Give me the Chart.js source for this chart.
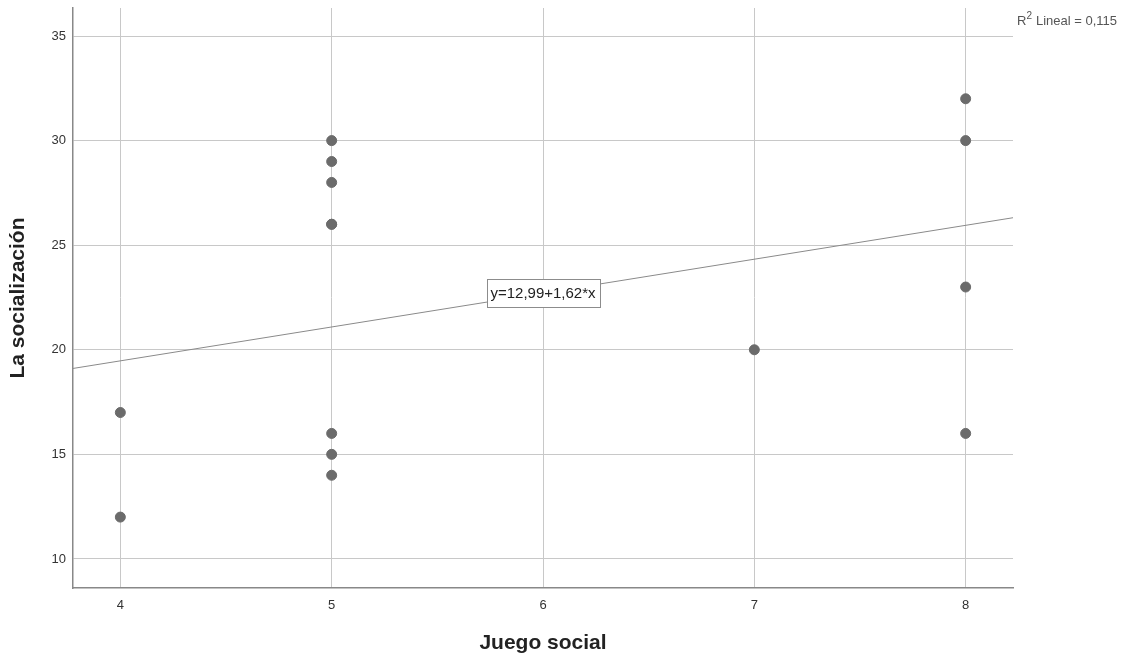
<!DOCTYPE html>
<html>
<head>
<meta charset="utf-8">
<script src="https://cdn.jsdelivr.net/npm/chart.js@4"></script>
<style>
  html, body { margin: 0; padding: 0; background: #fff; }
  #wrap { width: 1134px; height: 664px; }
</style>
</head>
<body>
<div id="wrap"><canvas id="scatter"></canvas></div>
<script>
// Data
const juegoSocial = [4, 4, 5, 5, 5, 5, 5, 5, 5, 5, 7, 8, 8, 8, 8];
const socializacion = [17, 12, 30, 29, 28, 26, 26, 16, 15, 14, 20, 32, 30, 23, 16];
const xTicks = [4, 5, 6, 7, 8];
const yTicks = [10, 15, 20, 25, 30, 35];
const intercept = 12.99;
const slope = 1.62;
const fitLabel = 'y=12,99+1,62*x';
const r2Label = 'Lineal = 0,115';

const xMin = 3.776, xMax = 8.224;
const yMin = 8.61, yMax = 36.34;

const points = juegoSocial.map((x, i) => ({ x: x, y: socializacion[i] }));
const fitLine = [xMin, xMax].map(x => ({ x: x, y: intercept + slope * x }));

const FONT = '"Liberation Sans", Arial, sans-serif';

// draws the equation box on the fit line and the R² note
const annotations = {
    id: 'annotations',
    afterDraw(chart) {
        const ctx = chart.ctx;
        const xs = chart.scales.x, ys = chart.scales.y;
        const midX = (xTicks[0] + xTicks[xTicks.length - 1]) / 2;
        const px = xs.getPixelForValue(midX);
        const py = ys.getPixelForValue(intercept + slope * midX);
        ctx.save();
        ctx.font = '15px ' + FONT;
        const w = Math.round(ctx.measureText(fitLabel).width + 8);
        const h = 28;
        const bx = Math.round(px - w / 2), by = Math.round(py - h / 2);
        ctx.fillStyle = '#fff';
        ctx.fillRect(bx, by, w, h);
        ctx.strokeStyle = '#8c8c8c';
        ctx.lineWidth = 1;
        ctx.strokeRect(bx + 0.5, by + 0.5, w, h);
        ctx.fillStyle = '#222';
        ctx.textAlign = 'center';
        ctx.textBaseline = 'middle';
        ctx.fillText(fitLabel, px, py + 1);

        // R² Lineal label, top right
        const rx = 1017, ry = 21;
        ctx.fillStyle = '#555';
        ctx.textAlign = 'left';
        ctx.font = '13px ' + FONT;
        ctx.fillText('R', rx, ry);
        const rw = ctx.measureText('R').width;
        ctx.font = '10px ' + FONT;
        ctx.fillText('2', rx + rw, ry - 5);
        const sw = ctx.measureText('2').width;
        ctx.font = '13px ' + FONT;
        ctx.fillText(r2Label, rx + rw + sw + 4, ry);
        ctx.restore();
    }
};

const ctx = document.getElementById('scatter').getContext('2d');
new Chart(ctx, {
    type: 'scatter',
    data: {
        datasets: [
            {
                label: 'Casos',
                data: points,
                backgroundColor: '#6b6b6b',
                borderColor: '#6b6b6b',
                pointRadius: 5,
                pointHoverRadius: 5,
            },
            {
                type: 'line',
                label: 'Ajuste',
                data: fitLine,
                borderColor: '#8a8a8a',
                borderWidth: 1,
                pointRadius: 0,
                fill: false,
            },
        ],
    },
    options: {
        responsive: true,
        maintainAspectRatio: false,
        animation: false,
        layout: { padding: { top: 8, right: 121, left: 0, bottom: 0 } },
        plugins: {
            legend: { display: false },
            tooltip: { enabled: false },
        },
        scales: {
            x: {
                type: 'linear',
                min: xMin,
                max: xMax,
                afterBuildTicks: scale => { scale.ticks = xTicks.map(v => ({ value: v })); },
                afterFit: scale => { scale.height = 76; scale.paddingLeft = 0; scale.paddingRight = 0; },
                grid: { color: '#c8c8c8', drawTicks: false },
                border: { color: '#888', width: 1.5 },
                ticks: {
                    padding: 10,
                    color: '#333',
                    font: { family: FONT, size: 13 },
                    callback: v => v,
                },
                title: {
                    display: true,
                    text: 'Juego social',
                    color: '#222',
                    padding: { top: 4, bottom: 8 },
                    font: { family: FONT, size: 21, weight: 'bold' },
                },
            },
            y: {
                min: yMin,
                max: yMax,
                afterBuildTicks: scale => { scale.ticks = yTicks.map(v => ({ value: v })); },
                afterFit: scale => { scale.width = 73; scale.paddingTop = 0; scale.paddingBottom = 0; },
                grid: { color: '#c8c8c8', drawTicks: false },
                border: { color: '#888', width: 1.5 },
                ticks: {
                    padding: 7,
                    color: '#333',
                    font: { family: FONT, size: 13 },
                    callback: v => v,
                },
                title: {
                    display: true,
                    text: 'La socialización',
                    color: '#222',
                    padding: { top: 6, bottom: 4 },
                    font: { family: FONT, size: 21, weight: 'bold' },
                },
            },
        },
    },
    plugins: [annotations],
});
</script>
</body>
</html>
